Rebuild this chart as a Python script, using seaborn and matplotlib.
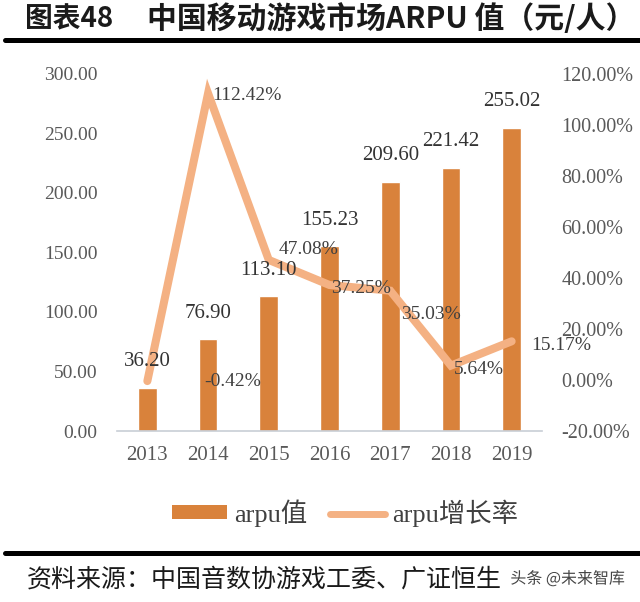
import numpy as np
import pandas as pd
import matplotlib
matplotlib.use("Agg")
import matplotlib.pyplot as plt
from matplotlib.patches import Patch
from matplotlib.lines import Line2D
import matplotlib.patheffects as pe
import seaborn as sns

# data
years = ["2013", "2014", "2015", "2016", "2017", "2018", "2019"]
arpu = [36.20, 76.90, 113.10, 155.23, 209.60, 221.42, 255.02]
growth = [-0.42, 112.42, 47.08, 37.25, 35.03, 5.64, 15.17]
left_ticks = [0, 50, 100, 150, 200, 250, 300]
right_ticks = [-20, 0, 20, 40, 60, 80, 100, 120]

# label placement for the growth labels (pixels, by hand like the original)
pct_offsets = [(57, 0), (4, -2), (10, 10), (2, -3), (11, -24), (3, -4), (20, -4)]

bar_color = "#D9823B"
line_color = "#F4B183"
serif = ["Liberation Serif", "Noto Sans CJK SC"]

sns.set_theme(style="white")
plt.rcParams["font.family"] = ["Noto Sans CJK SC", "DejaVu Sans"]

df = pd.DataFrame({"year": years, "arpu": arpu, "growth": growth})

fig = plt.figure(figsize=(6.4, 6.02), dpi=100)
ax = fig.add_axes([117 / 640, 1 - 431 / 602, 425 / 640, 357 / 602])

sns.barplot(data=df, x="year", y="arpu", color=bar_color, saturation=1,
            width=0.31, ax=ax)
ax.set_ylim(0, 300)
ax.set_yticks(left_ticks)
ax.set_yticklabels([f"{v:.2f}" for v in left_ticks], family=serif,
                   fontsize=14, color="#595959")
ax.set_xticks(range(len(years)))
ax.set_xticklabels(years, family=serif, fontsize=15, color="#595959")
ax.tick_params(axis="y", length=0, pad=14)
ax.tick_params(axis="x", length=0, pad=11)
ax.set_xlabel("")
ax.set_ylabel("")
for s in ["top", "left", "right"]:
    ax.spines[s].set_visible(False)
ax.spines["bottom"].set_color("#C8CED6")
ax.spines["bottom"].set_linewidth(1.2)

ax2 = ax.twinx()
sns.lineplot(x=np.arange(len(years)), y=growth, ax=ax2, color=line_color,
             linewidth=5.8, solid_capstyle="round", solid_joinstyle="miter")
ax2.set_ylim(-20, 120)
ax2.set_yticks(right_ticks)
ax2.set_yticklabels([f"{v:.2f}%" for v in right_ticks], family=serif,
                    fontsize=14.5, color="#595959")
ax2.tick_params(axis="y", length=0, pad=14)
ax2.set_ylabel("")
for s in ax2.spines.values():
    s.set_visible(False)
ax.set_xlim(-0.5, len(years) - 0.5)

# bar value labels, drawn on the top axes so the line stays behind them
for i, v in enumerate(arpu):
    ax2.annotate(f"{v:.2f}", (i, v), xycoords=ax.transData, xytext=(0, 26),
                 textcoords="offset pixels", ha="center", va="center",
                 family=serif, fontsize=15, color="#333333", zorder=5)

for i, v in enumerate(growth):
    dx, dy = pct_offsets[i]
    ax2.annotate(f"{v:.2f}%", (i, v), xytext=(dx, dy), textcoords="offset pixels",
                 ha="left", va="center", family=serif, fontsize=14,
                 color="#404040", zorder=5)

handles = [Patch(facecolor=bar_color, edgecolor="none"),
           Line2D([], [], color=line_color, linewidth=5, solid_capstyle="round")]
fig.legend(handles, ["arpu值", "arpu增长率"], loc="center",
           bbox_to_anchor=(345 / 640, 1 - 513 / 602), ncol=2, frameon=False,
           prop={"family": serif, "size": 19}, handlelength=2.1,
           handleheight=0.45, handletextpad=0.27, columnspacing=0.85,
           labelcolor="#404040")

# title, rules and source
fig.text(25 / 640, 1 - 19 / 602, "图表48", fontsize=20, fontweight="bold",
         va="center", ha="left", color="#1a1a1a")
fig.text(147 / 640, 1 - 19 / 602, "中国移动游戏市场ARPU 值（元/人）", fontsize=21.5,
         fontweight="bold", va="center", ha="left", color="#1a1a1a")
fig.add_artist(Line2D([5 / 640, 1], [1 - 40 / 602] * 2, color="black",
                      linewidth=3.6, transform=fig.transFigure))
fig.add_artist(Line2D([5 / 640, 1], [1 - 553 / 602] * 2, color="black",
                      linewidth=3.6, transform=fig.transFigure))
fig.text(27 / 640, 1 - 580 / 602, "资料来源：中国音数协游戏工委、广证恒生",
         fontsize=18, va="center", ha="left", color="#1a1a1a")
fig.text(625 / 640, 1 - 579 / 602, "头条 @未来智库", fontsize=11.5,
         va="center", ha="right", color="#444444",
         path_effects=[pe.withStroke(linewidth=2, foreground="white")])

fig.savefig("out.png", dpi=100)
